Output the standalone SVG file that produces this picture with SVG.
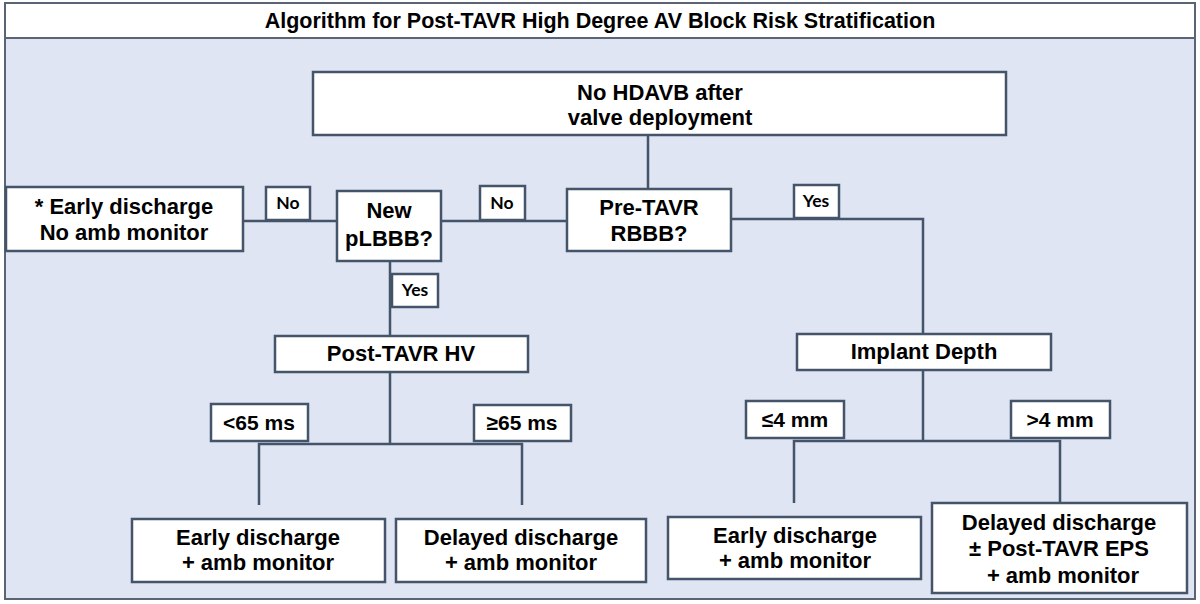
<svg xmlns="http://www.w3.org/2000/svg" width="1200" height="604" viewBox="0 0 1200 604">
<style>
.box{fill:#ffffff;stroke:#44546a;stroke-width:2.5}
.lbl{fill:#ffffff;stroke:#44546a;stroke-width:2.5}
.ln{fill:none;stroke:#44546a;stroke-width:2.5}
.t{font-family:"Liberation Sans",Arial,sans-serif;font-weight:bold;font-size:22px;fill:#000;text-anchor:middle}
.m{font-size:21px}
.s{font-family:Lato,"Liberation Sans",sans-serif;font-weight:bold;font-size:17.5px;fill:#000;text-anchor:middle}
.title{font-family:"Liberation Sans",Arial,sans-serif;font-weight:bold;font-size:21.5px;fill:#000;text-anchor:middle}
</style>
<rect x="5" y="38" width="1190" height="561" fill="#dfe5f3" stroke="#5a6474" stroke-width="2"/>
<g id="title"><rect x="5" y="3" width="1190" height="35" fill="#ffffff" stroke="#5a6474" stroke-width="2"/><text class="title" x="600" y="28">Algorithm for Post-TAVR High Degree AV Block Risk Stratification</text></g>
<g id="connectors">
<path class="ln" d="M648 135V189"/>
<path class="ln" d="M243 221H337M441 221H567"/>
<path class="ln" d="M731 219H923V334"/>
<path class="ln" d="M390 261V336M390 372V444M259 505V444H522V505"/>
<path class="ln" d="M923 370V441M794 503V441H1060V503"/>
</g>
<g id="n-start"><rect class="box" x="313" y="72" width="693" height="63"/><text class="t" x="660" y="100" font-size="23">No HDAVB after</text><text class="t" x="660" y="125" font-size="23">valve deployment</text></g>
<g id="n-early0"><rect class="box" x="6" y="187" width="237" height="64"/><text class="t" x="124" y="214">* Early discharge</text><text class="t" x="124" y="240">No amb monitor</text></g>
<g id="n-plbbb"><rect class="box" x="337" y="191" width="104" height="70"/><text class="t" x="389" y="218">New</text><text class="t" x="389" y="246">pLBBB?</text></g>
<g id="n-rbbb"><rect class="box" x="567" y="189" width="164" height="62"/><text class="t" x="649" y="215">Pre-TAVR</text><text class="t" x="649" y="241">RBBB?</text></g>
<g id="l-no1"><rect class="lbl" x="266" y="187" width="44" height="33"/><text class="s" x="288" y="209">No</text></g>
<g id="l-no2"><rect class="lbl" x="480" y="186" width="45" height="34"/><text class="s" x="502" y="209">No</text></g>
<g id="l-yes1"><rect class="lbl" x="794" y="185" width="45" height="33"/><text class="s" x="816" y="207">Yes</text></g>
<g id="l-yes2"><rect class="lbl" x="392" y="274" width="46" height="33"/><text class="s" x="415" y="296">Yes</text></g>
<g id="n-hv"><rect class="box" x="275" y="336" width="253" height="36"/><text class="t" x="401" y="361" font-size="20.5">Post-TAVR HV</text></g>
<g id="n-depth"><rect class="box" x="797" y="334" width="254" height="36"/><text class="t" x="924" y="359" font-size="20.5">Implant Depth</text></g>
<g id="l-lt65"><rect class="lbl" x="211" y="404" width="97" height="37"/><text class="t m" x="259" y="430">&lt;65 ms</text></g>
<g id="l-ge65"><rect class="lbl" x="474" y="405" width="97" height="36"/><text class="t m" x="522" y="430">≥65 ms</text></g>
<g id="l-le4"><rect class="lbl" x="746" y="401" width="98" height="37"/><text class="t m" x="795" y="427">≤4 mm</text></g>
<g id="l-gt4"><rect class="lbl" x="1011" y="401" width="99" height="37"/><text class="t m" x="1060" y="427">&gt;4 mm</text></g>
<g id="n-early1"><rect class="box" x="132" y="519" width="253" height="63"/><text class="t" x="258" y="545">Early discharge</text><text class="t" x="258" y="570">+ amb monitor</text></g>
<g id="n-delay1"><rect class="box" x="396" y="519" width="250" height="63"/><text class="t" x="521" y="545">Delayed discharge</text><text class="t" x="521" y="570">+ amb monitor</text></g>
<g id="n-early2"><rect class="box" x="668" y="517" width="253" height="62"/><text class="t" x="795" y="543">Early discharge</text><text class="t" x="795" y="568">+ amb monitor</text></g>
<g id="n-delay2"><rect class="box" x="932" y="503" width="255" height="90"/><text class="t" x="1059" y="530">Delayed discharge</text><text class="t" x="1059" y="556">± Post-TAVR EPS</text><text class="t" x="1063" y="583">+ amb monitor</text></g>
</svg>
